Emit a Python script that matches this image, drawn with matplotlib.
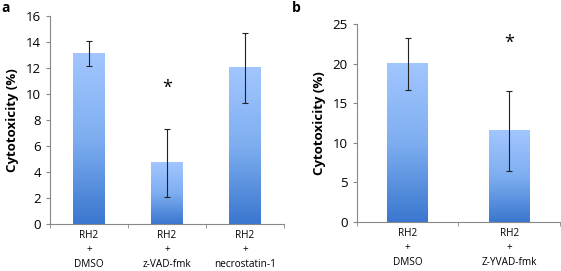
import numpy as np
import matplotlib.pyplot as plt
from matplotlib.colors import LinearSegmentedColormap

cats_a = ["RH2\n+\nDMSO", "RH2\n+\nz-VAD-fmk", "RH2\n+\nnecrostatin-1"]
vals_a = [13.1, 4.7, 12.0]
err_a = [0.95, 2.65, 2.7]
star_a = (1, 10.5)

cats_b = ["RH2\n+\nDMSO", "RH2\n+\nZ-YVAD-fmk"]
vals_b = [20.0, 11.5]
err_b = [3.3, 5.0]
star_b = (1, 22.6)

plt.rcParams['font.family'] = ['Open Sans', 'DejaVu Sans']
cmap = LinearSegmentedColormap.from_list("g", ["#3a77cf", "#7eaef0", "#a2c6ff"])
grad = np.linspace(0, 1, 256).reshape(-1, 1)

fig = plt.figure(figsize=(5.61, 2.71), dpi=100)

def panel(rect, cats, vals, errs, star, ymax, ystep, letter, letter_xy):
    ax = fig.add_axes(rect)
    n = len(cats)
    x = np.arange(n)
    bars = ax.bar(x, vals, width=0.4, color='none', zorder=2)
    for b in bars:
        x0, y0 = b.get_x(), b.get_y()
        w, h = b.get_width(), b.get_height()
        ax.imshow(grad, extent=(x0, x0 + w, y0, y0 + h), origin='lower',
                  cmap=cmap, aspect='auto', zorder=1)
    ax.errorbar(x, vals, yerr=errs, fmt='none', ecolor='#222222',
                elinewidth=0.8, capsize=2.5, capthick=0.8, zorder=3)
    ax.text(star[0], star[1], '*', ha='center', va='center', fontsize=13)
    ax.set_xlim(-0.5, n - 0.5)
    ax.set_ylim(0, ymax)
    ax.set_yticks(np.arange(0, ymax + 0.1, ystep))
    ax.set_xticks(x)
    ax.set_xticklabels(cats, fontsize=7.2, linespacing=1.45)
    ax.set_xticks(np.arange(-0.5, n, 1), minor=True)
    ax.tick_params(axis='x', which='major', length=0, pad=4)
    ax.tick_params(axis='x', which='minor', length=3, color='#888888')
    ax.tick_params(axis='y', labelsize=9.5, length=3, color='#888888')
    for s in ['top', 'right']:
        ax.spines[s].set_visible(False)
    for s in ['left', 'bottom']:
        ax.spines[s].set_color('#888888')
        ax.spines[s].set_linewidth(0.8)
    ax.set_ylabel('Cytotoxicity (%)', fontsize=9.5, fontweight='bold', labelpad=5)
    fig.text(letter_xy[0], letter_xy[1], letter, fontsize=10, fontweight='bold',
             ha='left', va='top')
    return ax

panel([0.089, 0.173, 0.417, 0.768], cats_a, vals_a, err_a, star_a, 16, 2, 'a', (0.003, 0.995))
panel([0.636, 0.181, 0.362, 0.730], cats_b, vals_b, err_b, star_b, 25, 5, 'b', (0.52, 0.995))

fig.savefig('out.png', dpi=100)
